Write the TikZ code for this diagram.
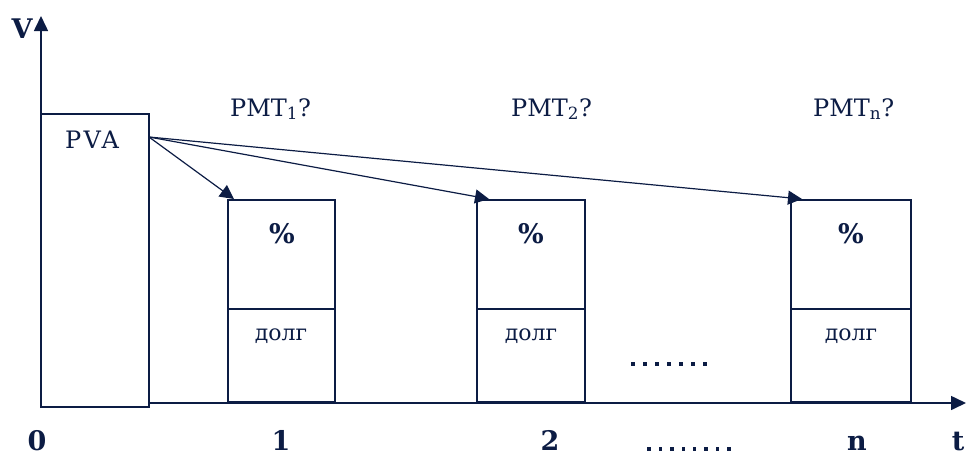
\documentclass[tikz,border=0pt]{standalone}
\usepackage{fontspec}
\setmainfont{DejaVu Serif}
\usetikzlibrary{arrows.meta}
\definecolor{ink}{RGB}{12,28,68}
\begin{document}
\begin{tikzpicture}[x=1pt,y=-1pt,
  line/.style={draw=ink,line width=1.6pt},
  arr/.style={draw=ink,line width=1.2pt,-{Triangle[length=14pt,width=14pt]}},
  lbl/.style={text=ink,font=\fontsize{24}{26}\selectfont,inner sep=0pt},
  ax/.style={text=ink,font=\bfseries\fontsize{27}{29}\selectfont,inner sep=0pt},
  pct/.style={text=ink,font=\bfseries\fontsize{27}{29}\selectfont,inner sep=0pt},
  dolg/.style={text=ink,font=\fontsize{22}{24}\selectfont,inner sep=0pt},
  dot/.style={fill=ink,minimum size=3.4pt,inner sep=0pt,shape=rectangle}]
\useasboundingbox (0,0) rectangle (966,456);
% axes
\coordinate (ytip) at (41,16);
\coordinate (xtip) at (966,403);
\draw[line,-{Triangle[length=15pt,width=14pt]}] (41,408) -- (ytip);
\draw[line,-{Triangle[length=15pt,width=14pt]}] (149,403) -- (xtip);
\node[ax,anchor=base] (V) at (22,38) {V};
% PVA box
\draw[line] (41,114) rectangle (149,407);
\node[lbl,anchor=base,font=\addfontfeature{LetterSpace=10}\fontsize{24}{26}\selectfont] (pva) at (92,148) {PVA};
\coordinate (src) at (149,137);
% payment boxes
\draw[line] (228,200) rectangle (335,402);
\draw[line] (228,309) -- (335,309);
\draw[line] (477,200) rectangle (585,402);
\draw[line] (477,309) -- (585,309);
\draw[line] (791,200) rectangle (911,402);
\draw[line] (791,309) -- (911,309);
\coordinate (b1) at (234,199);
\coordinate (b2) at (489,199);
\coordinate (b3) at (802,199);
\draw[arr] (src) -- (b1);
\draw[arr] (src) -- (b2);
\draw[arr] (src) -- (b3);
\node[pct,anchor=base] (p1) at (282,243) {\%};
\node[pct,anchor=base] (p2) at (531,243) {\%};
\node[pct,anchor=base] (p3) at (851,243) {\%};
\node[dolg,anchor=base] (d1) at (281,340) {долг};
\node[dolg,anchor=base] (d2) at (531,340) {долг};
\node[dolg,anchor=base] (d3) at (851,340) {долг};
\node[lbl,anchor=base west] (m1) at (230,116) {PMT\textsubscript{1}?};
\node[lbl,anchor=base west] (m2) at (511,116) {PMT\textsubscript{2}?};
\node[lbl,anchor=base west] (m3) at (813,116) {PMT\textsubscript{n}?};
% dots between boxes
\foreach \i in {0,...,6} \node[dot] (md\i) at (633+12*\i,364) {};
% axis labels
\node[ax,anchor=base] (l0) at (37,450) {0};
\node[ax,anchor=base] (l1) at (281,450) {1};
\node[ax,anchor=base] (l2) at (550,450) {2};
\foreach \i in {0,...,7} \node[dot] (ad\i) at (649+11.4*\i,449) {};
\node[ax,anchor=base] (ln) at (857,450) {n};
\node[ax,anchor=base] (lt) at (958,450) {t};
\end{tikzpicture}
\end{document}
